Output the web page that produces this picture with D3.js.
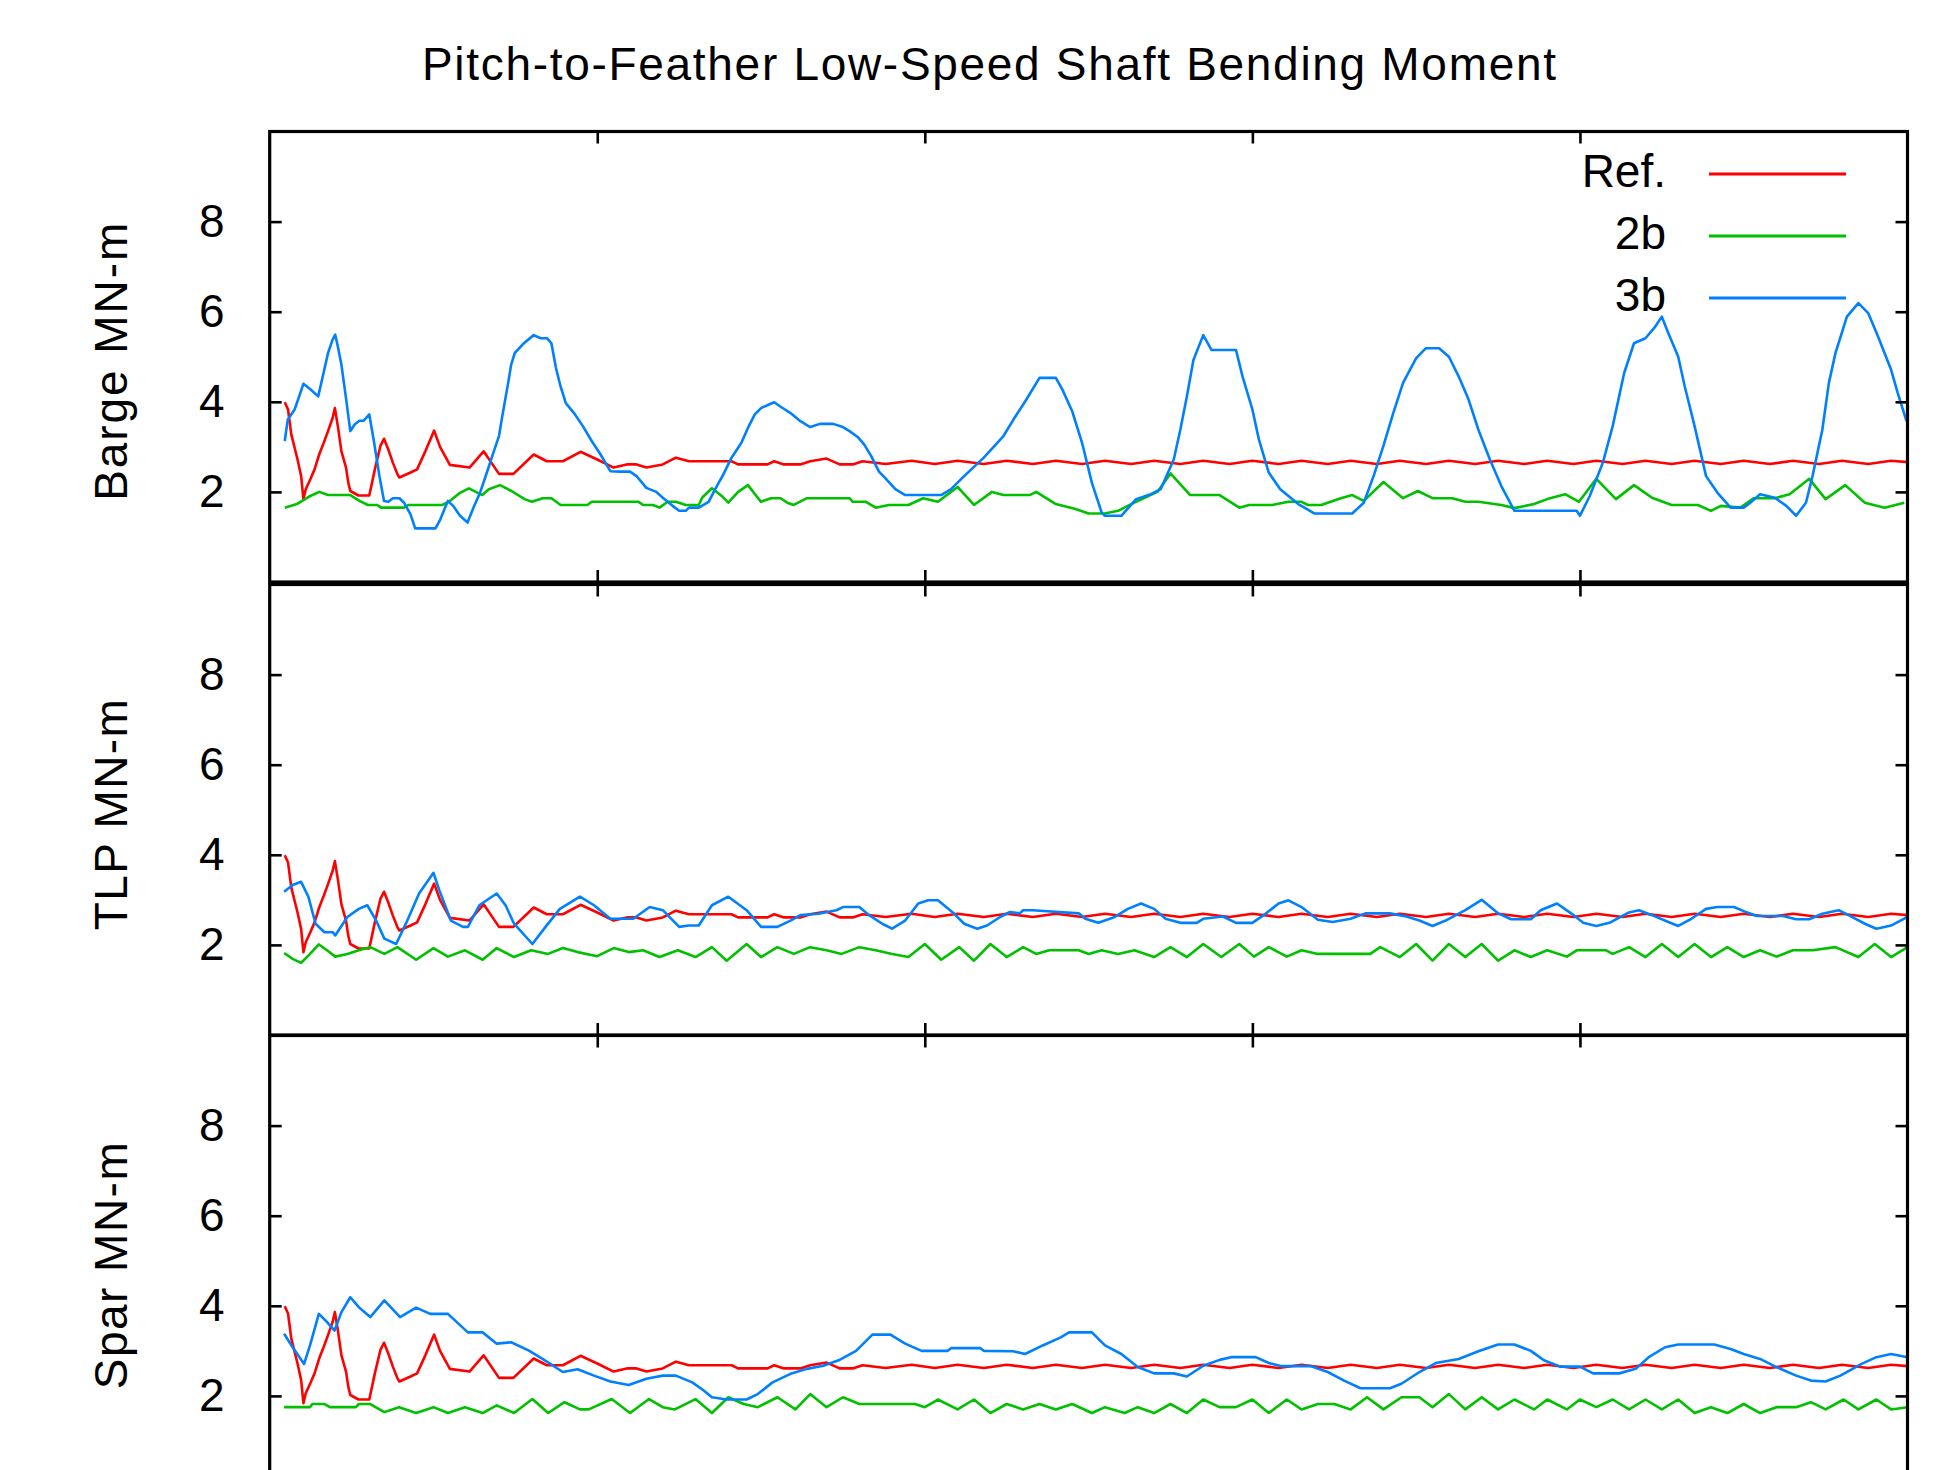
<!DOCTYPE html>
<html>
<head>
<meta charset="utf-8">
<script src="https://cdn.jsdelivr.net/npm/d3@7"></script>
<style>
  body { margin: 0; background: #fff; }
  text { font-family: "Liberation Sans", Arial, sans-serif; }
</style>
</head>
<body>
<svg id="chart"></svg>
<script>
// chart text
const chartTitle = 'Pitch-to-Feather Low-Speed Shaft Bending Moment'
const panelNames = ['Barge MN-m', 'TLP MN-m', 'Spar MN-m']
const seriesNames = ['Ref.', '2b', '3b']
const colorsArr = ['#ff0000', '#00c000', '#0080ff']
const yTicks = [2, 4, 6, 8]
const xTicks = [10, 20, 30, 40]

// [time s, moment MN-m]
// reference line is the same in all three panels
const refData = [[0.46,3.99],[0.56,3.83],[0.66,3.27],[0.85,2.72],[0.96,2.35],[1.03,1.84],[1.1,2.06],[1.24,2.28],
  [1.37,2.5],[1.51,2.83],[1.65,3.09],[1.78,3.35],[1.92,3.64],[1.99,3.86],[2.08,3.46],[2.19,2.9],[2.33,2.54],
  [2.4,2.2],[2.46,2.02],[2.71,1.92],[3.04,1.92],[3.21,2.5],[3.38,3.02],[3.49,3.18],[3.62,2.94],[3.76,2.65],
  [3.9,2.39],[3.96,2.32],[4.3,2.43],[4.5,2.5],[4.75,2.9],[5.02,3.36],[5.2,3.0],[5.5,2.6],[6.1,2.54],[6.53,2.9],
  [7.0,2.4],[7.44,2.4],[8.06,2.83],[8.46,2.68],[8.95,2.68],[9.49,2.89],[10.0,2.72],[10.5,2.54],[10.9,2.61],
  [11.2,2.61],[11.5,2.54],[12.0,2.61],[12.4,2.76],[12.8,2.68],[14.1,2.68],[14.3,2.61],[15.2,2.61],[15.4,2.68],
  [15.7,2.61],[16.2,2.61],[16.5,2.68],[17.0,2.74],[17.4,2.61],[17.8,2.61],[18.1,2.68],[18.8,2.62],[19.6,2.69],
  [20.3,2.62],[21.0,2.69],[21.8,2.62],[22.5,2.69],[23.3,2.62],[24.0,2.69],[24.8,2.62],[25.5,2.69],[26.3,2.62],
  [27.0,2.69],[27.8,2.62],[28.5,2.69],[29.3,2.62],[30.0,2.69],[30.8,2.62],[31.5,2.69],[32.3,2.62],[33.0,2.69],
  [33.8,2.62],[34.5,2.69],[35.3,2.62],[36.0,2.69],[36.8,2.62],[37.5,2.69],[38.3,2.62],[39.0,2.69],[39.8,2.62],
  [40.5,2.69],[41.3,2.62],[42.0,2.69],[42.8,2.62],[43.5,2.69],[44.3,2.62],[45.0,2.69],[45.8,2.62],[46.5,2.69],
  [47.3,2.62],[48.0,2.69],[48.8,2.62],[49.5,2.69],[50.0,2.66]]

const barge2b = [[0.46,1.65],[0.83,1.73],[1.24,1.91],[1.51,2.0],[1.78,1.93],[2.46,1.93],[2.74,1.8],[3.0,1.71],
  [3.28,1.71],[3.4,1.65],[4.1,1.65],[4.24,1.71],[5.26,1.71],[5.47,1.78],[5.81,1.98],[6.08,2.08],[6.29,2.0],
  [6.49,1.93],[6.69,2.06],[7.03,2.15],[7.38,2.02],[7.78,1.84],[8.0,1.78],[8.33,1.86],[8.6,1.86],[8.88,1.71],
  [9.7,1.71],[9.83,1.78],[11.26,1.78],[11.4,1.71],[11.7,1.71],[11.9,1.65],[12.15,1.78],[12.4,1.78],[12.7,1.71],
  [13.1,1.71],[13.2,1.87],[13.5,2.08],[13.8,1.91],[14.0,1.76],[14.3,2.0],[14.6,2.15],[14.9,1.87],[15.0,1.78],
  [15.3,1.86],[15.6,1.86],[15.8,1.76],[16.0,1.71],[16.4,1.86],[17.7,1.86],[17.8,1.78],[18.2,1.78],[18.5,1.65],
  [18.9,1.71],[19.5,1.71],[19.95,1.86],[20.4,1.78],[21.0,2.11],[21.5,1.71],[22.05,2.0],[22.4,1.93],[23.2,1.93],
  [23.4,2.0],[24.0,1.73],[24.6,1.62],[25.0,1.52],[25.5,1.52],[25.9,1.58],[26.3,1.73],[27.1,2.0],[27.5,2.41],
  [28.1,1.93],[29.0,1.93],[29.6,1.65],[29.9,1.71],[30.6,1.71],[31.1,1.78],[31.5,1.78],[31.7,1.71],[32.1,1.71],
  [32.7,1.86],[33.05,1.93],[33.4,1.8],[34.0,2.22],[34.6,1.86],[35.05,2.02],[35.5,1.86],[36.1,1.86],[36.5,1.78],
  [36.9,1.78],[37.6,1.71],[38.0,1.64],[38.6,1.73],[39.0,1.84],[39.55,1.95],[39.97,1.78],[40.5,2.29],[41.1,1.84],
  [41.65,2.15],[42.2,1.87],[42.8,1.71],[43.6,1.71],[44.0,1.58],[44.3,1.69],[44.9,1.65],[45.3,1.86],[45.95,1.86],
  [46.4,1.95],[47.0,2.29],[47.5,1.84],[48.1,2.15],[48.7,1.76],[49.3,1.65],[49.9,1.76]]

const barge3b = [[0.46,3.13],[0.55,3.6],[0.76,3.83],[0.9,4.12],[1.03,4.4],[1.24,4.28],[1.48,4.12],[1.62,4.56],
  [1.78,5.08],[1.92,5.38],[2.0,5.49],[2.08,5.23],[2.19,4.82],[2.35,3.97],[2.46,3.35],[2.6,3.5],[2.74,3.58],
  [2.87,3.58],[3.04,3.72],[3.18,3.13],[3.35,2.35],[3.49,1.8],[3.62,1.78],[3.76,1.86],[3.96,1.86],[4.1,1.76],
  [4.3,1.5],[4.44,1.19],[5.06,1.19],[5.19,1.36],[5.44,1.8],[5.6,1.69],[5.81,1.47],[6.04,1.32],[6.22,1.65],
  [6.42,1.98],[6.63,2.43],[6.83,2.87],[7.0,3.24],[7.1,3.68],[7.28,4.42],[7.37,4.82],[7.48,5.08],[7.76,5.3],
  [8.06,5.48],[8.27,5.41],[8.47,5.41],[8.6,5.3],[8.74,4.75],[8.88,4.34],[9.04,3.97],[9.29,3.75],[9.56,3.46],
  [9.83,3.13],[10.1,2.83],[10.4,2.46],[10.7,2.45],[11.0,2.45],[11.2,2.35],[11.5,2.09],[11.8,2.0],[12.0,1.87],
  [12.3,1.69],[12.5,1.58],[12.7,1.58],[12.8,1.65],[13.1,1.65],[13.4,1.78],[13.6,2.06],[13.85,2.39],[14.1,2.76],
  [14.4,3.09],[14.6,3.42],[14.81,3.72],[15.0,3.86],[15.4,3.99],[15.6,3.89],[15.9,3.75],[16.2,3.57],[16.5,3.44],
  [16.8,3.51],[17.2,3.51],[17.5,3.44],[17.7,3.35],[17.95,3.22],[18.15,3.05],[18.36,2.8],[18.6,2.45],[18.8,2.3],
  [19.1,2.06],[19.4,1.93],[20.5,1.93],[20.8,2.06],[21.2,2.35],[21.8,2.76],[22.4,3.24],[22.7,3.6],[23.1,4.05],
  [23.5,4.53],[24.0,4.53],[24.2,4.27],[24.5,3.79],[24.8,3.09],[25.1,2.2],[25.4,1.54],[25.5,1.47],[26.0,1.47],
  [26.45,1.84],[26.9,1.95],[27.2,2.06],[27.6,2.72],[27.8,3.38],[28.0,4.12],[28.2,4.93],[28.5,5.48],[28.75,5.15],
  [29.5,5.15],[29.7,4.56],[30.0,3.83],[30.2,3.16],[30.5,2.43],[30.85,2.06],[31.4,1.73],[31.9,1.52],[33.05,1.52],
  [33.4,1.76],[33.7,2.35],[34.0,3.02],[34.3,3.75],[34.6,4.42],[35.0,4.97],[35.3,5.19],[35.7,5.19],[36.0,5.0],
  [36.3,4.56],[36.6,4.05],[36.9,3.38],[37.25,2.72],[37.6,2.13],[38.0,1.58],[39.9,1.58],[40.0,1.47],[40.3,1.91],
  [40.7,2.65],[41.0,3.46],[41.35,4.64],[41.65,5.3],[42.0,5.41],[42.3,5.67],[42.5,5.89],[42.7,5.52],[43.0,5.0],
  [43.2,4.34],[43.5,3.46],[43.85,2.35],[44.2,1.98],[44.6,1.65],[45.0,1.65],[45.2,1.76],[45.5,1.95],[45.95,1.87],
  [46.3,1.69],[46.6,1.47],[46.9,1.76],[47.1,2.35],[47.4,3.38],[47.6,4.42],[47.8,5.08],[48.15,5.89],[48.5,6.19],
  [48.8,5.97],[49.1,5.45],[49.5,4.71],[49.7,4.2],[49.97,3.57]]

const tlp2b = [[0.44,1.82],[0.7,1.69],[0.96,1.6],[1.23,1.8],[1.5,2.01],[1.75,1.88],[2.0,1.74],[2.37,1.8],
  [2.72,1.88],[3.07,1.95],[3.5,1.8],[3.9,1.95],[4.47,1.67],[5.0,1.93],[5.44,1.74],[5.96,1.88],[6.5,1.67],
  [6.93,1.93],[7.46,1.73],[7.98,1.88],[8.5,1.8],[8.95,1.93],[9.4,1.84],[10.0,1.75],[10.5,1.93],[10.96,1.84],
  [11.4,1.88],[11.9,1.73],[12.46,1.88],[13.0,1.73],[13.5,1.95],[13.95,1.65],[14.56,2.02],[15.0,1.73],[15.5,1.95],
  [16.0,1.8],[16.5,1.95],[17.0,1.88],[17.46,1.8],[18.0,1.95],[18.5,1.88],[19.0,1.8],[19.5,1.73],[20.0,2.02],
  [20.5,1.67],[21.05,1.95],[21.5,1.65],[22.0,2.02],[22.5,1.73],[23.0,1.95],[23.4,1.8],[23.8,1.88],[24.7,1.88],
  [25.0,1.8],[25.4,1.88],[25.9,1.8],[26.4,1.88],[27.0,1.73],[27.5,1.95],[28.0,1.73],[28.5,2.02],[29.05,1.73],
  [29.6,2.02],[30.05,1.74],[30.5,1.95],[31.05,1.74],[31.5,1.88],[32.0,1.8],[33.6,1.8],[33.9,1.95],[34.5,1.73],
  [35.0,2.02],[35.5,1.65],[36.0,2.02],[36.5,1.73],[37.0,2.02],[37.5,1.65],[38.0,1.88],[38.5,1.73],[39.0,1.88],
  [39.6,1.74],[39.9,1.88],[40.8,1.88],[41.0,1.8],[41.5,1.95],[42.0,1.73],[42.5,2.02],[43.0,1.73],[43.5,2.02],
  [44.0,1.73],[44.5,1.95],[45.0,1.73],[45.5,1.88],[46.0,1.74],[46.5,1.88],[47.1,1.88],[47.8,1.95],[48.5,1.73],
  [49.0,2.02],[49.5,1.73],[50.0,1.95]]

const tlp3b = [[0.44,3.18],[0.7,3.33],[0.96,3.4],[1.18,3.07],[1.4,2.47],[1.67,2.28],[1.93,2.28],[2.0,2.21],
  [2.37,2.62],[2.72,2.8],[2.98,2.88],[3.25,2.54],[3.5,2.14],[3.86,2.02],[4.2,2.54],[4.56,3.14],[5.0,3.6],
  [5.18,3.21],[5.53,2.54],[5.9,2.4],[6.05,2.4],[6.4,2.88],[6.93,3.14],[7.2,2.88],[7.46,2.47],[8.02,2.02],
  [8.42,2.4],[8.86,2.8],[9.47,3.07],[9.9,2.88],[10.4,2.58],[11.1,2.58],[11.6,2.84],[12.0,2.77],[12.5,2.4],
  [12.8,2.43],[13.1,2.43],[13.5,2.88],[14.0,3.07],[14.56,2.77],[15.0,2.4],[15.5,2.4],[15.9,2.54],[16.2,2.66],
  [16.75,2.69],[17.3,2.77],[17.5,2.84],[18.0,2.84],[18.3,2.66],[18.7,2.47],[19.0,2.36],[19.4,2.54],[19.8,2.92],
  [20.1,2.99],[20.4,2.99],[20.9,2.69],[21.2,2.47],[21.6,2.36],[21.9,2.43],[22.3,2.62],[22.6,2.73],[22.9,2.7],
  [23.0,2.77],[23.3,2.77],[24.7,2.7],[24.9,2.58],[25.3,2.49],[25.8,2.62],[26.2,2.8],[26.6,2.92],[27.0,2.8],
  [27.35,2.58],[27.8,2.49],[28.3,2.49],[28.5,2.58],[29.1,2.63],[29.5,2.49],[30.0,2.49],[30.4,2.69],[30.8,2.92],
  [31.1,2.99],[31.5,2.84],[32.0,2.56],[32.45,2.51],[33.0,2.58],[33.45,2.7],[34.2,2.7],[34.7,2.63],[35.1,2.54],
  [35.5,2.42],[35.9,2.54],[36.5,2.77],[37.0,3.0],[37.5,2.7],[37.9,2.57],[38.5,2.57],[38.8,2.77],[39.3,2.92],
  [39.75,2.69],[40.1,2.49],[40.5,2.42],[40.9,2.49],[41.5,2.72],[41.8,2.77],[42.2,2.66],[42.7,2.51],[43.0,2.42],
  [43.4,2.58],[43.85,2.8],[44.2,2.84],[44.7,2.84],[45.0,2.75],[45.4,2.64],[46.2,2.64],[46.6,2.57],[47.0,2.57],
  [47.4,2.69],[47.9,2.77],[48.2,2.66],[48.7,2.47],[49.05,2.36],[49.5,2.43],[50.0,2.62]]

const spar2b = [[0.44,1.75],[1.23,1.75],[1.3,1.82],[1.67,1.82],[1.84,1.75],[2.63,1.75],[2.72,1.82],[3.07,1.82],
  [3.5,1.64],[3.95,1.75],[4.47,1.62],[5.0,1.75],[5.44,1.62],[5.96,1.75],[6.5,1.62],[6.93,1.79],[7.46,1.62],
  [8.02,1.93],[8.5,1.62],[9.0,1.86],[9.47,1.7],[9.74,1.7],[10.44,1.93],[11.0,1.62],[11.58,1.93],[12.0,1.75],
  [12.37,1.7],[13.0,1.93],[13.5,1.62],[14.0,1.97],[14.47,1.82],[14.9,1.75],[15.5,1.97],[16.05,1.7],[16.5,2.04],
  [17.0,1.75],[17.5,1.97],[18.0,1.82],[19.7,1.82],[20.0,1.75],[20.4,1.92],[21.0,1.7],[21.5,1.92],[22.0,1.62],
  [22.5,1.82],[23.0,1.7],[23.5,1.82],[24.0,1.7],[24.5,1.82],[25.1,1.62],[25.5,1.75],[26.1,1.62],[26.5,1.75],
  [27.0,1.62],[27.5,1.82],[28.0,1.62],[28.5,1.92],[29.0,1.75],[29.5,1.75],[30.0,1.92],[30.5,1.62],[31.05,1.92],
  [31.5,1.7],[32.0,1.82],[32.5,1.82],[33.0,1.7],[33.5,1.97],[34.0,1.7],[34.55,1.97],[35.1,1.97],[35.5,1.75],
  [36.0,2.04],[36.5,1.7],[37.0,1.97],[37.5,1.7],[38.0,1.92],[38.6,1.7],[39.0,1.92],[39.6,1.7],[40.0,1.92],
  [40.5,1.75],[41.0,1.92],[41.5,1.7],[42.0,1.92],[42.5,1.7],[43.0,1.92],[43.5,1.62],[44.0,1.75],[44.5,1.62],
  [45.0,1.82],[45.5,1.62],[46.0,1.75],[46.6,1.75],[47.05,1.86],[47.5,1.7],[48.05,1.92],[48.5,1.7],[49.05,1.92],
  [49.5,1.7],[50.0,1.75]]

const spar3b = [[0.44,3.38],[0.7,3.08],[1.05,2.71],[1.23,3.12],[1.5,3.82],[1.75,3.64],[1.98,3.45],[2.19,3.86],
  [2.46,4.19],[2.72,3.97],[3.07,3.75],[3.5,4.12],[3.98,3.75],[4.47,3.96],[4.9,3.82],[5.44,3.82],[6.05,3.41],
  [6.5,3.41],[6.93,3.16],[7.37,3.19],[7.9,3.01],[8.33,2.82],[8.95,2.53],[9.4,2.59],[9.9,2.45],[10.4,2.32],
  [10.96,2.24],[11.5,2.38],[12.0,2.45],[12.4,2.45],[12.9,2.3],[13.25,2.12],[13.5,1.97],[13.95,1.92],[14.56,1.92],
  [14.9,2.04],[15.35,2.3],[15.9,2.49],[16.4,2.6],[16.9,2.67],[17.37,2.79],[17.9,3.0],[18.4,3.36],[18.95,3.36],
  [19.4,3.16],[19.9,3.0],[20.7,3.0],[20.8,3.06],[21.7,3.06],[21.8,3.0],[22.7,2.99],[23.06,2.93],[23.6,3.12],
  [24.15,3.3],[24.4,3.41],[25.1,3.41],[25.5,3.12],[26.0,2.93],[26.5,2.64],[27.0,2.5],[27.6,2.5],[28.0,2.43],
  [28.5,2.67],[29.0,2.8],[29.35,2.86],[30.1,2.86],[30.5,2.73],[30.9,2.66],[31.8,2.66],[32.3,2.53],[32.8,2.34],
  [33.3,2.17],[34.2,2.17],[34.55,2.27],[35.1,2.53],[35.6,2.73],[36.3,2.82],[36.9,2.99],[37.5,3.14],[38.0,3.14],
  [38.5,3.0],[38.9,2.79],[39.4,2.65],[40.0,2.65],[40.4,2.5],[41.2,2.5],[41.7,2.6],[42.1,2.86],[42.6,3.08],
  [43.0,3.14],[44.1,3.14],[44.6,3.04],[45.0,2.93],[45.5,2.82],[46.0,2.64],[46.6,2.45],[47.05,2.34],[47.5,2.32],
  [47.95,2.45],[48.6,2.71],[49.05,2.86],[49.5,2.93],[50.0,2.86]]

const panelSeries = [
  [refData, barge2b, barge3b],
  [refData, tlp2b, tlp3b],
  [refData, spar2b, spar3b]
]

// layout
const W = 1936, H = 1470
const left = 269.7, right = 1907.5
const panelTops = [131.5, 584.5, 1035.5]
const panelH = 450.5
const fontSize = 46

const svg = d3.select('#chart')
    .attr('width', W)
    .attr('height', H)
    .style('display', 'block')

svg.append('rect').attr('width', W).attr('height', H).attr('fill', '#fff')

const x = d3.scaleLinear().domain([0, 50]).range([left, right])
const colors = d3.scaleOrdinal(colorsArr)

// title
svg.append('text')
    .attr('x', 989)
    .attr('y', 80)
    .attr('text-anchor', 'middle')
    .attr('font-size', fontSize)
    .attr('textLength', 1134)
    .attr('lengthAdjust', 'spacing')
    .text(chartTitle)

const labelLengths = [278, 231, 247]

panelSeries.forEach((series, p) => {
    const top = panelTops[p]
    const y = d3.scaleLinear().domain([0, 10]).range([top + panelH, top])
    const g = svg.append('g')

    // curves, Ref first so 3b sits on top
    const line = d3.line().x(d => x(d[0])).y(d => y(d[1]))
    g.append('g')
        .selectAll('path')
        .data(series)
        .join('path')
        .attr('d', line)
        .attr('fill', 'none')
        .attr('stroke', (d, i) => colors(i))
        .attr('stroke-width', 2.6)
        .attr('stroke-linejoin', 'round')

    // ticks on all four sides, pointing inward
    const yLeft = g.append('g')
        .attr('transform', `translate(${left},0)`)
        .call(d3.axisLeft(y).tickValues(yTicks).tickSize(-12).tickPadding(45))
    const yRight = g.append('g')
        .attr('transform', `translate(${right},0)`)
        .call(d3.axisRight(y).tickValues(yTicks).tickSize(-12).tickFormat(''))
    const xTop = g.append('g')
        .attr('transform', `translate(0,${top})`)
        .call(d3.axisTop(x).tickValues(xTicks).tickSize(-12).tickFormat(''))
    const xBottom = g.append('g')
        .attr('transform', `translate(0,${top + panelH})`)
        .call(d3.axisBottom(x).tickValues(xTicks).tickSize(-12).tickFormat(''))

    ;[yLeft, yRight, xTop, xBottom].forEach(a => {
        a.select('.domain').remove()
        a.selectAll('line').attr('stroke', '#000').attr('stroke-width', 2.6)
    })
    yLeft.selectAll('text')
        .attr('font-family', '"Liberation Sans", Arial, sans-serif')
        .attr('font-size', fontSize)
        .attr('fill', '#000')

    // frame
    g.append('rect')
        .attr('x', left)
        .attr('y', top)
        .attr('width', right - left)
        .attr('height', panelH)
        .attr('fill', 'none')
        .attr('stroke', '#000')
        .attr('stroke-width', 3.2)

    // y label
    g.append('text')
        .attr('transform', `translate(127,${top + panelH / 2 + 5}) rotate(-90)`)
        .attr('text-anchor', 'middle')
        .attr('font-size', fontSize)
        .attr('textLength', labelLengths[p])
        .attr('lengthAdjust', 'spacing')
        .text(panelNames[p])
})

// legend in the first panel
const legend = svg.append('g')
seriesNames.forEach((name, i) => {
    const ly = 174 + i * 62
    legend.append('text')
        .attr('x', 1666)
        .attr('y', ly + 13)
        .attr('text-anchor', 'end')
        .attr('font-size', fontSize)
        .text(name)
    legend.append('line')
        .attr('x1', 1709)
        .attr('x2', 1846)
        .attr('y1', ly)
        .attr('y2', ly)
        .attr('stroke', colors(i))
        .attr('stroke-width', 3)
})
</script>
</body>
</html>
